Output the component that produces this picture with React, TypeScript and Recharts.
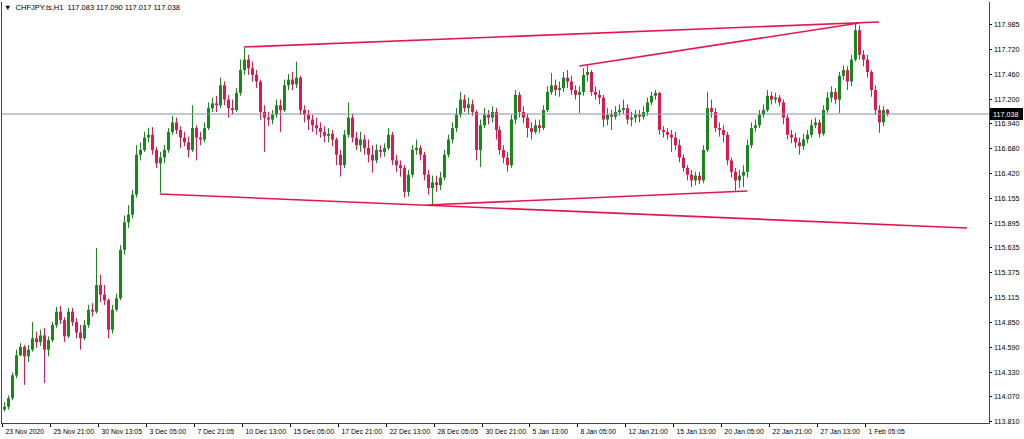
import React from 'react';
import { ComposedChart, Bar, XAxis, YAxis, ReferenceLine } from 'recharts';

// [open, high, low, close] per candle (resampled)
type Ohlc = [number, number, number, number];

const lateNov: Ohlc[] = [
  [113.93, 114.01, 113.91, 113.96], [113.96, 114.08, 113.93, 114.05], [114.05, 114.32, 114.03, 114.29],
  [114.29, 114.56, 114.26, 114.50], [114.50, 114.63, 114.49, 114.59], [114.59, 114.61, 114.19, 114.49],
  [114.49, 114.61, 114.43, 114.56], [114.56, 114.85, 114.54, 114.68], [114.68, 114.75, 114.58, 114.64],
  [114.64, 114.77, 114.60, 114.71], [114.71, 114.79, 114.21, 114.56], [114.56, 114.70, 114.49, 114.66],
  [114.66, 114.85, 114.64, 114.82], [114.82, 115.01, 114.79, 114.96], [114.96, 115.02, 114.83, 114.87],
  [114.87, 114.90, 114.64, 114.70], [114.70, 115.00, 114.68, 114.96], [114.96, 115.00, 114.81, 114.85],
  [114.85, 114.89, 114.68, 114.74], [114.74, 114.82, 114.56, 114.68], [114.68, 114.87, 114.66, 114.82],
  [114.82, 115.03, 114.79, 114.98], [114.98, 115.05, 114.91, 114.96], [114.96, 115.63, 114.94, 115.24],
  [115.24, 115.35, 115.06, 115.14], [115.14, 115.24, 115.03, 115.08], [115.08, 115.10, 114.68, 114.77],
  [114.77, 115.03, 114.73, 114.98], [114.98, 115.15, 114.96, 115.10], [115.10, 115.66, 115.08, 115.61],
  [115.61, 115.97, 115.56, 115.90], [115.90, 116.08, 115.84, 115.98], [115.98, 116.24, 115.94, 116.19],
  [116.19, 116.71, 116.16, 116.61], [116.61, 116.74, 116.55, 116.66], [116.66, 116.85, 116.64, 116.79],
  [116.79, 116.89, 116.74, 116.82], [116.82, 116.90, 116.61, 116.66],
];

const earlyDec: Ohlc[] = [
  [116.66, 116.69, 116.47, 116.52], [116.52, 116.64, 116.21, 116.58], [116.58, 116.71, 116.52, 116.66],
  [116.66, 116.89, 116.63, 116.85], [116.85, 117.02, 116.82, 116.95], [116.95, 117.00, 116.83, 116.87],
  [116.87, 116.91, 116.68, 116.79], [116.79, 116.85, 116.70, 116.74], [116.74, 116.80, 116.58, 116.66],
  [116.66, 117.13, 116.64, 116.89], [116.89, 116.92, 116.55, 116.79], [116.79, 116.85, 116.71, 116.77],
  [116.77, 116.95, 116.74, 116.89], [116.89, 117.16, 116.87, 117.10], [117.10, 117.21, 117.06, 117.15],
  [117.15, 117.23, 117.06, 117.13], [117.13, 117.42, 117.10, 117.34], [117.34, 117.38, 117.13, 117.19],
  [117.19, 117.24, 117.00, 117.10], [117.10, 117.19, 117.03, 117.08], [117.08, 117.31, 117.06, 117.26],
  [117.26, 117.61, 117.23, 117.50], [117.50, 117.73, 117.45, 117.61], [117.61, 117.66, 117.45, 117.52],
  [117.52, 117.59, 117.38, 117.45], [117.45, 117.50, 117.31, 117.38], [117.38, 117.40, 116.98, 117.06],
  [117.06, 117.13, 116.64, 117.00], [117.00, 117.06, 116.91, 116.98], [116.98, 117.08, 116.93, 117.03],
  [117.03, 117.19, 117.00, 117.13], [117.13, 117.19, 116.85, 117.08], [117.08, 117.40, 117.06, 117.34],
  [117.34, 117.46, 117.29, 117.40], [117.40, 117.48, 117.29, 117.35], [117.35, 117.59, 117.31, 117.42],
  [117.42, 117.44, 117.03, 117.08],
];

const midDec: Ohlc[] = [
  [117.08, 117.13, 116.95, 117.03], [117.03, 117.08, 116.87, 116.98], [116.98, 117.03, 116.85, 116.92],
  [116.92, 117.00, 116.82, 116.89], [116.89, 116.95, 116.79, 116.85], [116.85, 116.91, 116.74, 116.81],
  [116.81, 116.89, 116.74, 116.83], [116.83, 116.87, 116.70, 116.77], [116.77, 116.79, 116.50, 116.61],
  [116.61, 116.66, 116.38, 116.50], [116.50, 116.87, 116.47, 116.82], [116.82, 117.16, 116.79, 117.00],
  [117.00, 117.04, 116.74, 116.79], [116.79, 116.85, 116.66, 116.71], [116.71, 116.85, 116.64, 116.77],
  [116.77, 116.82, 116.61, 116.68], [116.68, 116.77, 116.53, 116.61], [116.61, 116.71, 116.42, 116.55],
  [116.55, 116.72, 116.52, 116.66], [116.66, 116.71, 116.58, 116.64], [116.64, 116.73, 116.59, 116.68],
  [116.68, 116.89, 116.66, 116.82], [116.82, 116.85, 116.50, 116.55], [116.55, 116.61, 116.43, 116.50],
  [116.50, 116.55, 116.38, 116.47], [116.47, 116.50, 116.16, 116.22], [116.22, 116.45, 116.17, 116.40],
  [116.40, 116.71, 116.37, 116.66], [116.66, 116.77, 116.61, 116.68], [116.68, 116.71, 116.55, 116.61],
  [116.61, 116.64, 116.34, 116.40], [116.40, 116.45, 116.19, 116.26], [116.26, 116.39, 116.09, 116.32],
  [116.32, 116.39, 116.22, 116.29], [116.29, 116.43, 116.24, 116.37], [116.37, 116.66, 116.34, 116.61],
  [116.61, 116.82, 116.58, 116.77],
];

const earlyJan: Ohlc[] = [
  [116.77, 116.95, 116.73, 116.89], [116.89, 117.10, 116.85, 117.03], [117.03, 117.27, 117.00, 117.19],
  [117.19, 117.24, 117.06, 117.10], [117.10, 117.21, 117.04, 117.14], [117.14, 117.19, 117.02, 117.06],
  [117.06, 117.08, 116.55, 116.66], [116.66, 116.98, 116.48, 116.92], [116.92, 117.10, 116.89, 117.03],
  [117.03, 117.08, 116.93, 117.00], [117.00, 117.12, 116.95, 117.06], [117.06, 117.10, 116.77, 116.87],
  [116.87, 116.91, 116.61, 116.66], [116.66, 116.71, 116.52, 116.58], [116.58, 116.64, 116.43, 116.50],
  [116.50, 117.03, 116.47, 116.98], [116.98, 117.29, 116.93, 117.24], [117.24, 117.27, 117.00, 117.06],
  [117.06, 117.12, 116.94, 117.00], [117.00, 117.04, 116.79, 116.89], [116.89, 116.95, 116.77, 116.85],
  [116.85, 116.98, 116.83, 116.92], [116.92, 116.98, 116.84, 116.89], [116.89, 117.13, 116.87, 117.08],
  [117.08, 117.33, 117.06, 117.27], [117.27, 117.47, 117.24, 117.34], [117.34, 117.40, 117.23, 117.29],
  [117.29, 117.38, 117.22, 117.31], [117.31, 117.48, 117.27, 117.42], [117.42, 117.50, 117.31, 117.38],
  [117.38, 117.44, 117.24, 117.29], [117.29, 117.34, 117.19, 117.24], [117.24, 117.33, 117.05, 117.27],
  [117.27, 117.52, 117.23, 117.45], [117.45, 117.55, 117.38, 117.48], [117.48, 117.50, 117.23, 117.27],
  [117.27, 117.33, 117.19, 117.24],
];

const midJan: Ohlc[] = [
  [117.24, 117.29, 117.14, 117.21], [117.21, 117.24, 116.90, 116.98], [116.98, 117.10, 116.92, 117.03],
  [117.03, 117.08, 116.87, 117.01], [117.01, 117.12, 116.98, 117.06], [117.06, 117.14, 117.02, 117.08],
  [117.08, 117.19, 117.04, 117.10], [117.10, 117.14, 116.93, 116.98], [116.98, 117.06, 116.91, 117.00],
  [117.00, 117.08, 116.95, 117.03], [117.03, 117.08, 116.95, 117.01], [117.01, 117.12, 116.98, 117.06],
  [117.06, 117.21, 117.02, 117.16], [117.16, 117.27, 117.13, 117.23], [117.23, 117.29, 117.19, 117.26],
  [117.26, 117.27, 116.82, 116.87], [116.87, 116.91, 116.79, 116.85], [116.85, 116.89, 116.77, 116.82],
  [116.82, 116.87, 116.64, 116.79], [116.79, 116.85, 116.66, 116.71], [116.71, 116.77, 116.53, 116.58],
  [116.58, 116.61, 116.43, 116.47], [116.47, 116.50, 116.34, 116.40], [116.40, 116.45, 116.27, 116.34],
  [116.34, 116.43, 116.29, 116.39], [116.39, 116.43, 116.30, 116.34], [116.34, 116.71, 116.31, 116.66],
  [116.66, 117.27, 116.64, 117.10], [117.10, 117.19, 117.00, 117.06], [117.06, 117.10, 116.85, 116.89],
  [116.89, 116.95, 116.80, 116.87], [116.87, 116.92, 116.74, 116.82], [116.82, 116.85, 116.50, 116.55],
  [116.55, 116.58, 116.37, 116.43], [116.43, 116.47, 116.23, 116.34], [116.34, 116.45, 116.26, 116.39],
  [116.39, 116.50, 116.27, 116.43],
];

const lateJan: Ohlc[] = [
  [116.43, 116.77, 116.37, 116.71], [116.71, 116.95, 116.68, 116.89], [116.89, 116.98, 116.85, 116.92],
  [116.92, 117.08, 116.89, 117.03], [117.03, 117.14, 117.00, 117.08], [117.08, 117.29, 117.06, 117.23],
  [117.23, 117.27, 117.14, 117.19], [117.19, 117.26, 117.15, 117.21], [117.21, 117.24, 117.12, 117.16],
  [117.16, 117.19, 116.93, 117.00], [117.00, 117.03, 116.77, 116.82], [116.82, 116.87, 116.73, 116.79],
  [116.79, 116.84, 116.68, 116.74], [116.74, 116.79, 116.61, 116.70], [116.70, 116.83, 116.66, 116.77],
  [116.77, 116.87, 116.73, 116.82], [116.82, 116.98, 116.79, 116.92], [116.92, 117.00, 116.89, 116.95],
  [116.95, 116.98, 116.79, 116.83], [116.83, 117.13, 116.81, 117.08], [117.08, 117.27, 117.05, 117.21],
  [117.21, 117.33, 117.16, 117.27], [117.27, 117.31, 117.14, 117.19], [117.19, 117.48, 117.05, 117.44],
  [117.44, 117.55, 117.40, 117.50], [117.50, 117.54, 117.29, 117.38], [117.38, 117.66, 117.33, 117.61],
  [117.61, 117.99, 117.59, 117.92], [117.92, 117.97, 117.61, 117.66], [117.66, 117.71, 117.54, 117.61],
  [117.61, 117.66, 117.42, 117.48], [117.48, 117.50, 117.22, 117.29], [117.29, 117.34, 117.03, 117.08],
  [117.08, 117.13, 116.84, 116.95], [116.95, 117.12, 116.91, 117.08], [117.083, 117.090, 117.017, 117.038],
];

const timeLabels = [
  '23 Nov 2020', '25 Nov 21:00', '30 Nov 13:05', '3 Dec 05:00', '7 Dec 21:05', '10 Dec 13:00',
  '15 Dec 05:00', '17 Dec 21:00', '22 Dec 13:00', '28 Dec 05:05', '30 Dec 21:00', '5 Jan 13:00',
  '8 Jan 05:00', '12 Jan 21:00', '15 Jan 13:00', '20 Jan 05:00', '22 Jan 21:00', '27 Jan 13:00', '1 Feb 05:05',
];
const timeSlots = [0, 12, 24, 36, 48, 60, 72, 84, 96, 108, 120, 132, 144, 156, 168, 180, 192, 204, 216];

const priceTicks = [
  117.985, 117.72, 117.46, 117.2, 116.94, 116.68, 116.42, 116.155, 115.895,
  115.635, 115.375, 115.115, 114.85, 114.59, 114.33, 114.07, 113.81,
];

const symbolLine = 'CHFJPY.ts,H1  117.083 117.090 117.017 117.038';
const lastPrice = 117.038;

// drawn trend lines: [slot, price] -> [slot, price]
const trendLines: [number, number, number, number][] = [
  [60, 117.743, 219, 118.006],
  [144, 117.543, 214, 117.995],
  [39, 116.197, 241, 115.84],
  [106, 116.081, 186, 116.229],
];

const GREEN = '#15891a';
const RED = '#e2174c';
const LINE_RED = '#e3174d';
const SLOTS = 247;
const FONT = '"Liberation Sans", Arial, sans-serif';

const candles = [...lateNov, ...earlyDec, ...midDec, ...earlyJan, ...midJan, ...lateJan];
const rows = Array.from({ length: SLOTS }, (_, i) => {
  const k = candles[i];
  if (!k) return { t: i };
  return { t: i, o: k[0], h: k[1], l: k[2], c: k[3], range: [k[2], k[1]] };
});

const Candle = (props: any) => {
  const { x, y, width, height, payload } = props;
  if (!payload || payload.o == null) return null;
  const { o, h, l, c } = payload;
  const top = Math.min(y, y + height);
  const bottom = Math.max(y, y + height);
  const k = (bottom - top) / (h - l || 1);
  const yo = top + (h - o) * k;
  const yc = top + (h - c) * k;
  const color = c >= o ? GREEN : RED;
  const cx = Math.round(x + width / 2) + 0.5;
  const bTop = Math.min(yo, yc);
  const bH = Math.max(1, Math.abs(yo - yc));
  return (
    <g>
      <line x1={cx} x2={cx} y1={top} y2={bottom} stroke={color} strokeWidth={1} />
      <rect x={cx - 1.5} y={bTop} width={3} height={bH} fill={color} />
    </g>
  );
};

const TimeTick = (props: any) => {
  const { x, y, payload } = props;
  const idx = timeSlots.indexOf(payload.value);
  const left = Math.round(x - 2) + 0.5;
  return (
    <g>
      <line x1={left} x2={left} y1={y} y2={y + 4} stroke="#000" />
      <text x={left + 3} y={y + 11} fontSize={6.8} fontFamily={FONT} fill="#000">
        {timeLabels[idx]}
      </text>
    </g>
  );
};

const PriceTick = (props: any) => {
  const { x, y, payload } = props;
  return (
    <g>
      <line x1={x} x2={x + 3} y1={Math.round(y) + 0.5} y2={Math.round(y) + 0.5} stroke="#000" />
      <text x={x + 5} y={y + 3} fontSize={7.2} fontFamily={FONT} fill="#000">
        {payload.value.toFixed(3)}
      </text>
    </g>
  );
};

const PriceTag = (props: any) => {
  const { viewBox } = props;
  const x = viewBox.x + viewBox.width + 1;
  const y = viewBox.y;
  return (
    <g>
      <rect x={x} y={y - 6} width={33} height={12} fill="#000" />
      <text x={x + 3} y={y + 3} fontSize={7.2} fontFamily={FONT} fill="#fff">
        {lastPrice.toFixed(3)}
      </text>
    </g>
  );
};

export default function App() {
  return (
    <div style={{ position: 'absolute', left: 0, top: 0, width: 1024, height: 439, background: '#fff' }}>
      <ComposedChart
        width={1024}
        height={439}
        data={rows}
        margin={{ top: 2, right: 0, bottom: 0, left: 2 }}
        barCategoryGap={0}
      >
        <XAxis
          dataKey="t"
          type="category"
          ticks={timeSlots}
          interval={0}
          height={16}
          axisLine={false}
          tickLine={false}
          tickSize={0}
          tickMargin={0}
          tick={<TimeTick />}
        />
        <YAxis
          orientation="right"
          domain={[113.789, 118.216]}
          allowDataOverflow
          ticks={priceTicks}
          interval={0}
          width={35}
          axisLine={false}
          tickLine={false}
          tickSize={0}
          tickMargin={0}
          tick={<PriceTick />}
        />
        <ReferenceLine y={lastPrice} stroke="#8394ab" strokeWidth={1} label={<PriceTag />} />
        <Bar dataKey="range" shape={<Candle />} isAnimationActive={false} />
        {trendLines.map((s, i) => (
          <ReferenceLine
            key={i}
            segment={[{ x: s[0], y: s[1] }, { x: s[2], y: s[3] }]}
            stroke={LINE_RED}
            strokeWidth={1.6}
            ifOverflow="visible"
          />
        ))}
      </ComposedChart>
      <div
        style={{
          position: 'absolute', left: 1, top: 2, width: 989, height: 422,
          border: '1px solid #444', borderTop: 'none', boxSizing: 'border-box', pointerEvents: 'none',
        }}
      />
      <div
        style={{
          position: 'absolute', left: 4, top: 3, fontSize: 7.5, fontFamily: FONT,
          color: '#000', whiteSpace: 'pre', lineHeight: '9px',
        }}
      >
        {'\u25BC  ' + symbolLine}
      </div>
    </div>
  );
}
